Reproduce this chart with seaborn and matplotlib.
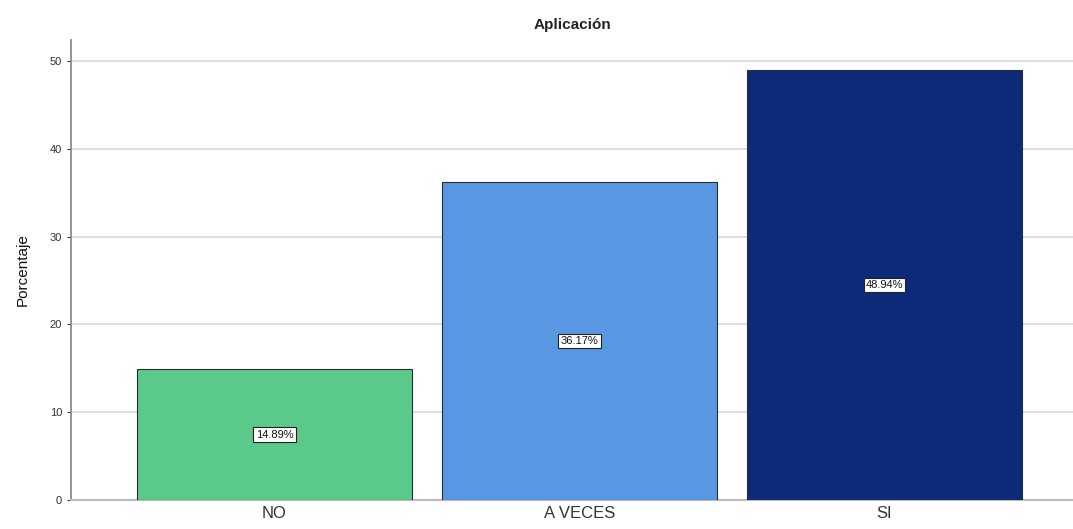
import matplotlib
matplotlib.use("Agg")
import matplotlib.pyplot as plt
import seaborn as sns
import pandas as pd

categories = ["NO", "A VECES", "SI"]
percentages = [14.89, 36.17, 48.94]
bar_colors = ["#5ac98a", "#5898e3", "#0c2a78"]
y_ticks = [0, 10, 20, 30, 40, 50]

df = pd.DataFrame({"categoria": categories, "porcentaje": percentages})

sns.set_theme(style="white")
plt.rcParams["font.family"] = ["Liberation Sans", "DejaVu Sans"]

fig = plt.figure(figsize=(10.73, 5.29), dpi=100)
ax = fig.add_axes([0.0662, 0.0548, 0.9338, 0.8696])

sns.barplot(data=df, x="categoria", y="porcentaje", hue="categoria",
            palette=bar_colors, saturation=1, width=0.9,
            edgecolor="#2b2b2b", linewidth=0.8,
            legend=False, ax=ax, zorder=3)

ax.set_xlim(-0.667, 2.618)
ax.set_ylim(0, 52.4)
ax.set_yticks(y_ticks)
ax.yaxis.grid(True, color="#d9d9d9", linewidth=1.2, zorder=0)
ax.set_axisbelow(True)

for i, v in enumerate(percentages):
    ax.text(i, v / 2, f"{v:.2f}%", ha="center", va="center", fontsize=8,
            color="#111111", zorder=5,
            bbox=dict(boxstyle="square,pad=0.2", facecolor="white",
                      edgecolor="#222222", linewidth=0.8))

ax.set_title("Aplicación", fontsize=11, fontweight="bold", pad=8, color="#222222")
ax.set_xlabel("")
ax.set_ylabel("Porcentaje", fontsize=11, color="#111111", labelpad=14)
ax.tick_params(axis="x", labelsize=12, colors="#333333", length=0, pad=4)
ax.tick_params(axis="y", labelsize=8, colors="#333333", length=3, left=True, width=0.8)

for side in ["top", "right"]:
    ax.spines[side].set_visible(False)
ax.spines["left"].set_color("#888888")
ax.spines["bottom"].set_color("#bbbbbb")
ax.spines["bottom"].set_linewidth(1.5)

fig.savefig("out.png", dpi=100, facecolor="white")
